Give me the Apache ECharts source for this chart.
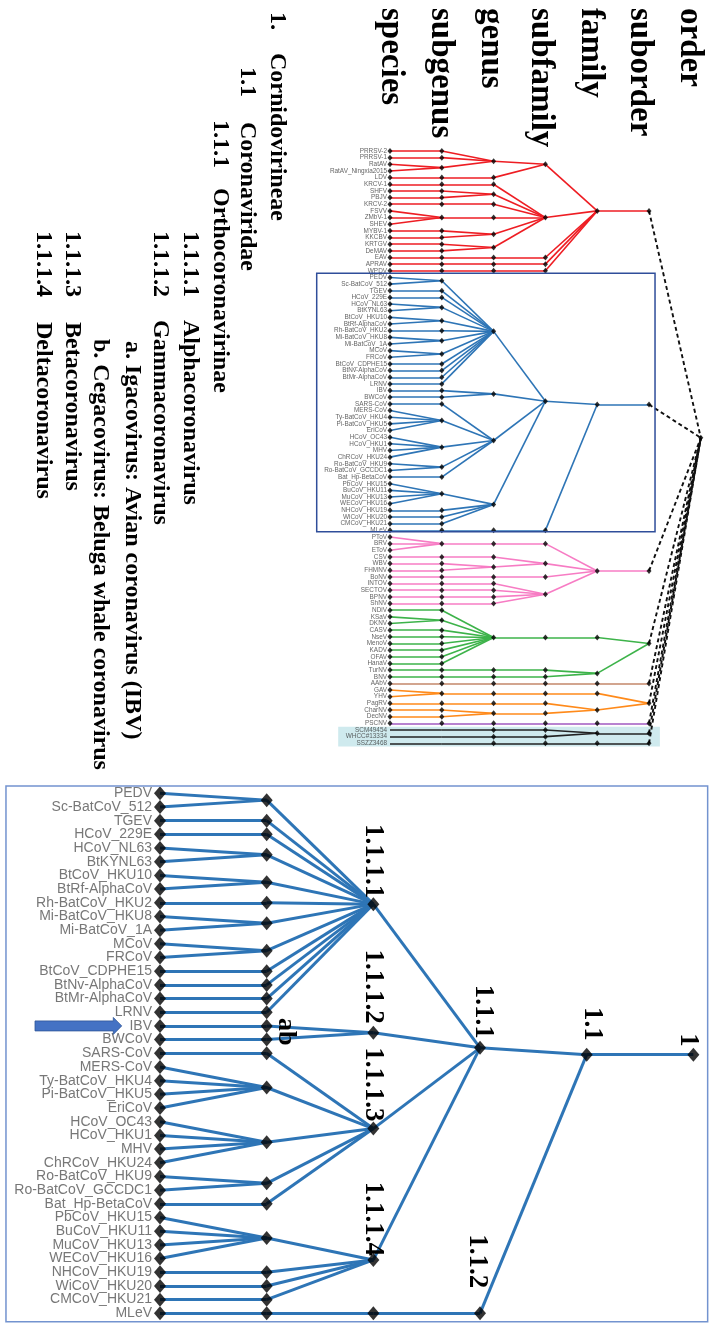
<!DOCTYPE html>
<html><head><meta charset="utf-8">
<script src="https://cdn.jsdelivr.net/npm/echarts@6/dist/echarts.min.js"></script>
<style>html,body{margin:0;padding:0;background:#fff}#c{width:709px;height:1324px}</style>
</head><body><div id="c"></div>
<script>
// ---------------- DATA ----------------
const leafNames = ['PRRSV-2','PRRSV-1','RatAV','RatAV_Ningxia2015','LDV','KRCV-1','SHFV','PBJV','KRCV-2','FSVV','ZMbV-1','SHEV','MYBV-1','KKCBV','KRTGV','DeMAV','EAV','APRAV','WPDV',
'PEDV','Sc-BatCoV_512','TGEV','HCoV_229E','HCoV_NL63','BtKYNL63','BtCoV_HKU10','BtRf-AlphaCoV','Rh-BatCoV_HKU2','Mi-BatCoV_HKU8','Mi-BatCoV_1A','MCoV','FRCoV','BtCoV_CDPHE15','BtNv-AlphaCoV','BtMr-AlphaCoV','LRNV','IBV','BWCoV','SARS-CoV','MERS-CoV','Ty-BatCoV_HKU4','Pi-BatCoV_HKU5','EriCoV','HCoV_OC43','HCoV_HKU1','MHV','ChRCoV_HKU24','Ro-BatCoV_HKU9','Ro-BatCoV_GCCDC1','Bat_Hp-BetaCoV','PbCoV_HKU15','BuCoV_HKU11','MuCoV_HKU13','WECoV_HKU16','NHCoV_HKU19','WiCoV_HKU20','CMCoV_HKU21','MLeV',
'PToV','BRV','EToV','CSV','WBV','FHMNV','BoNV','INTOV','SECTOV','BPNV','ShNV',
'NDiV','KSaV','DKNV','CASV','NseV','MenoV','KADV','OFAV','HanaV','TurNV','BNV',
'AAbV','GAV','YHV','PagRV','CharNV','DecNV','PSCNV','SCM49454','WHCC#13334','SSZZ3468'];
// number of leaves in each coloured clade (in leaf order)
const cladeSizes = [19, 39, 11, 11, 1, 5, 1, 3];
// each level: number of consecutive child nodes merged, or [children, position]
const level1 = [1,1,2,1,1,1,1,1,3,1,1,1,1,1,1,1,
  2,1,1,2,2,1,2,2,1,1,1,1,1,1,1,4,4,2,1,4,1,1,1,1,
  3,1,1,1,1,1,1,1,1,
  1,2,1,1,1,1,1,1,1,1,
  1,
  2,1,1,1,
  1,
  1,1,1];
const level2 = [[3,1.55],1,1,2,1,1,2,2,1,1,1,
  [12,27.1],2,[5,43.5],[4,53.1],1,
  1,1,2,1,1,1,1,1,
  [8,73.1],1,1,
  1,
  1,1,2,
  1,
  1,1,1];
const level3 = [[2,2.0],[6,10.0],1,1,1,
  [4,37.6],1,
  1,[2,62.0],1,[4,66.6],
  1,1,1,
  1,
  1,1,1,
  1,
  1,1,1];
const level4 = [[5,9.0],[2,38.1],[4,63.1],1,2,1,1,[2,84.0],1,2,1];
const level5 = [1,1,1,[2,74.0],1,[2,83.0],1,1,1];
const level6 = [[9,43.1]];
const rankNames = ['species','subgenus','genus','subfamily','family','suborder','order'];
const zoomClade = 1;
const zoomLabels = {2:['1.1.1.1','1.1.1.2','1.1.1.3','1.1.1.4',''], 3:['1.1.1','1.1.2'], 4:['1.1'], 5:['1']};
const outlineNums = ['1.','1.1','1.1.1','1.1.1.1','1.1.1.2','a.','b.','1.1.1.3','1.1.1.4'];
const outlineNames = ['Cornidovirineae','Coronaviridae','Orthocoronavirinae','Alphacoronavirus','Gammacoronavirus','Igacovirus: Avian coronavirus (IBV)','Cegacovirus: Beluga whale coronavirus','Betacoronavirus','Deltacoronavirus'];
const arrowLeaf = 'IBV';
const subLetters = 'ab';

// ---------------- STYLE / LAYOUT ----------------
const cladeColors = ['#EE1D23','#2E75B6','#F77CC4','#3DB34A','#C3876A','#FF8A1A','#A05AC0','#222222'];
const cladeFirstDot = [0,0,0,0,0,0,0,2];
const SERIF = '"Liberation Serif","Times New Roman",serif';
const SANS = '"Liberation Sans",Arial,sans-serif';

function buildTree(){
  const nodes = [[]];
  let li = 0;
  cladeSizes.forEach((n, g) => { for (let i = 0; i < n; i++) { nodes[0].push({y: li, clade: g, level: 0, name: leafNames[li], children: []}); li++; } });
  [level1, level2, level3, level4, level5, level6].forEach((lv, k) => {
    const prev = nodes[k], cur = []; let p = 0;
    lv.forEach(e => {
      const n = Array.isArray(e) ? e[0] : e;
      const ch = prev.slice(p, p + n); p += n;
      const y = Array.isArray(e) ? e[1] : ch.reduce((s, c) => s + c.y, 0) / n;
      cur.push({y, clade: ch[0].clade, level: k + 1, children: ch});
    });
    nodes.push(cur);
  });
  return nodes;
}
const tree = buildTree();

function edges(filter){
  const out = [];
  tree.forEach((lv, k) => { if (k === 0) return; lv.forEach(nd => nd.children.forEach(c => {
    if (!filter(c, nd)) return;
    const root = k === 6;
    out.push({coords: [[k - 1, c.y], [k, nd.y]], lineStyle: root ? {color: '#111', type: [4, 3], width: 1.9} : {color: cladeColors[c.clade], type: 'solid'}});
  })); });
  return out;
}
function dots(filter){
  const out = [];
  tree.forEach((lv, k) => lv.forEach(nd => { if (filter(nd)) out.push([k, nd.y]); }));
  return out;
}

const topEdges = edges(() => true);
const topDots = dots(nd => nd.level >= cladeFirstDot[nd.clade]);
const botEdges = edges((c, nd) => c.clade === zoomClade && nd.level <= 5).map(e => ({coords: e.coords}));
const botDots = dots(nd => nd.clade === zoomClade && nd.level <= 5);
const topLeafData = tree[0].map(l => ({name: l.name, value: [0, l.y]}));
const botLeafData = tree[0].filter(l => l.clade === zoomClade).map(l => ({name: l.name, value: [0, l.y]}));

const chart = echarts.init(document.getElementById('c'), null, {renderer: 'canvas'});
const hidden = {show: false};
const clear = 'rgba(0,0,0,0)';
chart.setOption({
  animation: false,
  backgroundColor: '#fff',
  grid: [
    {left: 312.3, width: 393.7, top: 144.35, height: 605.6},
    {left: 0, width: 708.3, top: 779.6, height: 543.3}
  ],
  xAxis: [
    {gridIndex: 0, type: 'value', min: -1.5, max: 6.1, show: false, splitLine: hidden},
    {gridIndex: 1, type: 'value', min: -1.5, max: 5.14, show: false, splitLine: hidden}
  ],
  yAxis: [
    {gridIndex: 0, type: 'value', min: -1, max: 90, inverse: true, show: false, splitLine: hidden},
    {gridIndex: 1, type: 'value', min: 18, max: 57.7, inverse: true, show: false, splitLine: hidden}
  ],
  series: [
    {type: 'lines', coordinateSystem: 'cartesian2d', xAxisIndex: 0, yAxisIndex: 0, silent: true, z: 2,
      lineStyle: {width: 1.6, opacity: 1}, data: topEdges},
    {type: 'scatter', xAxisIndex: 0, yAxisIndex: 0, silent: true, z: 3, symbol: 'diamond', symbolSize: [5, 6],
      itemStyle: {color: '#000'}, data: topDots},
    {type: 'scatter', xAxisIndex: 0, yAxisIndex: 0, silent: true, z: 4, symbol: 'diamond', symbolSize: [5, 6],
      itemStyle: {color: clear}, data: topLeafData,
      label: {show: true, position: 'left', distance: 0.5, formatter: '{b}', fontSize: 6.4, fontFamily: SANS, color: '#3a3a3a'}},
    {type: 'lines', coordinateSystem: 'cartesian2d', xAxisIndex: 1, yAxisIndex: 1, silent: true, z: 2,
      lineStyle: {width: 3, color: '#2E75B6', opacity: 1}, data: botEdges},
    {type: 'scatter', xAxisIndex: 1, yAxisIndex: 1, silent: true, z: 3, symbol: 'diamond', symbolSize: [12, 14],
      itemStyle: {color: '#000'}, data: botDots},
    {type: 'scatter', xAxisIndex: 1, yAxisIndex: 1, silent: true, z: 4, symbol: 'diamond', symbolSize: [12, 14],
      itemStyle: {color: clear}, data: botLeafData,
      label: {show: true, position: 'left', distance: 2, formatter: '{b}', fontSize: 14, fontFamily: SANS, color: '#555'}}
  ]
});

// ---------- decorations placed through the grids' scales ----------
const px = (g, v) => chart.convertToPixel({gridIndex: g}, v);
const G = [];
function rectFrom(g, x0, y0, x1, y1, style, z){
  const a = px(g, [x0, y0]), b = px(g, [x1, y1]);
  G.push({type: 'rect', z: z, silent: true, shape: {x: a[0], y: a[1], width: b[0] - a[0], height: b[1] - a[1]}, style: style});
}
function vtext(x, y, text, font, align){
  G.push({type: 'text', x: x, y: y, rotation: -Math.PI / 2, z: 10, silent: true,
    style: {text: text, font: font, fill: '#000', align: align || 'left', textAlign: align || 'left', verticalAlign: 'middle', textVerticalAlign: 'middle'}});
}
rectFrom(0, -1.0, 86.5, 5.21, 89.5, {fill: '#CFEAEE'}, -1);
rectFrom(0, -1.415, 18.38, 5.116, 57.2, {fill: 'none', stroke: '#2F4E9A', lineWidth: 1.5}, 5);
rectFrom(1, -1.444, 18.47, 5.134, 57.61, {fill: 'none', stroke: '#7393CF', lineWidth: 1.5}, 5);

const headerX = [391, 441, 491, 541, 591, 640, 690];
rankNames.forEach((r, i) => vtext(headerX[i], 8, r, 'bold 33px ' + SERIF));

const outlineX = [277, 247, 220, 190, 160, 132, 100, 72, 43];
const outlineNumY = [12, 67, 120, 231, 231, 341, 339, 231, 231];
const outlineNameY = [53, 122, 188, 320, 320, null, null, 322, 322];
outlineNums.forEach((n, i) => {
  const f = 'bold 24px ' + SERIF;
  if (outlineNameY[i] === null) vtext(outlineX[i], outlineNumY[i], n + ' ' + outlineNames[i], f);
  else { vtext(outlineX[i], outlineNumY[i], n, f); vtext(outlineX[i], outlineNameY[i], outlineNames[i], f); }
});

const labelNudge = {'1.1.1.1': [0, 6], '1.1.1.2': [0, 9], '1.1.1.3': [0, 7], '1.1.1.4': [0, 4], '1.1.1': [3, 9], '1.1.2': [-3, 25], '1.1': [5, 14], '1': [-5, 8]};
Object.keys(zoomLabels).forEach(k => {
  const lv = tree[+k].filter(nd => nd.clade === zoomClade);
  zoomLabels[k].forEach((t, i) => {
    if (!t || !lv[i]) return;
    const p = px(1, [+k, lv[i].y]);
    const nd = labelNudge[t] || [0, 6];
    vtext(p[0] + nd[0], p[1] - nd[1], t, 'bold 27px ' + SERIF, 'right');
  });
});

const ibv = tree[0].find(l => l.name === arrowLeaf);
const pa = px(1, [0, ibv.y]);
const pb = px(1, [1, ibv.y]);
const ax = pa[0], ay = pa[1];
G.push({type: 'polygon', z: 10, silent: true, shape: {points: [
  [ax - 125, ay - 5], [ax - 46.7, ay - 5], [ax - 46.7, ay - 8.5], [ax - 38.3, ay], [ax - 46.7, ay + 8.5], [ax - 46.7, ay + 5], [ax - 125, ay + 5]]},
  style: {fill: '#4472C4', stroke: '#2F5597', lineWidth: 0.8}});
vtext(pb[0] + 19, ay - 8, subLetters, 'bold 26px ' + SERIF);

chart.setOption({graphic: {elements: G}});
</script></body></html>
